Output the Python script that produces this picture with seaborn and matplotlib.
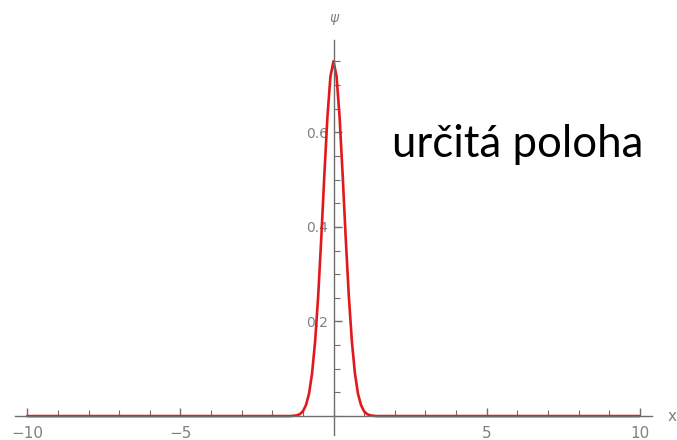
import matplotlib
matplotlib.use("Agg")
import matplotlib.pyplot as plt
import seaborn as sns
from matplotlib.ticker import MultipleLocator, FixedLocator

# values
x_vals = [-10.0, -1.4, -1.2, -1.1, -1.0, -0.9, -0.8, -0.7, -0.6, -0.5, -0.4, -0.3, -0.2, -0.1,
          0.0, 0.1, 0.2, 0.3, 0.4, 0.5, 0.6, 0.7, 0.8, 0.9, 1.0, 1.1, 1.2, 1.4, 10.0]
psi_vals = [0.0, 0.0, 0.0015, 0.004, 0.010, 0.023, 0.047, 0.090, 0.158, 0.254, 0.375, 0.508, 0.631, 0.718,
            0.75, 0.718, 0.631, 0.508, 0.375, 0.254, 0.158, 0.090, 0.047, 0.023, 0.010, 0.004, 0.0015, 0.0, 0.0]

x_ticks = [-10, -5, 5, 10]
x_tick_labels = ["\u221210", "\u22125", "5", "10"]
y_ticks = [0.2, 0.4, 0.6]
y_tick_labels = ["0.2", "0.4", "0.6"]

sns.set_style("white")
plt.rcParams['font.family'] = ['DejaVu Sans']

axis_grey = "#6e6e6e"
label_grey = "#808080"

fig = plt.figure(figsize=(6.77, 4.40), dpi=100)
ax = fig.add_axes([15 / 677, 5 / 440, 637 / 677, 395 / 440])

sns.lineplot(x=x_vals, y=psi_vals, ax=ax, color="#e2191c", linewidth=1.9, sort=False)

ax.set_xlim(-10.4, 10.4)
ax.set_ylim(-0.04, 0.795)

for side in ['top', 'right']:
    ax.spines[side].set_visible(False)
ax.spines['left'].set_position(('data', 0))
ax.spines['bottom'].set_position(('data', 0))
for side in ['left', 'bottom']:
    ax.spines[side].set_color(axis_grey)
    ax.spines[side].set_linewidth(1.0)

ax.xaxis.set_major_locator(FixedLocator(x_ticks))
ax.set_xticklabels(x_tick_labels)
ax.xaxis.set_minor_locator(MultipleLocator(1))
ax.yaxis.set_major_locator(FixedLocator(y_ticks))
ax.set_yticklabels(y_tick_labels)
ax.yaxis.set_minor_locator(MultipleLocator(0.05))

# seaborn's white style switches the ticks off, turn them back on
ax.tick_params(which='both', bottom=True, left=True, top=False, right=False)
ax.tick_params(axis='x', which='major', direction='in', length=6, width=1, color=axis_grey,
               labelsize=11, labelcolor=label_grey, pad=7)
ax.tick_params(axis='x', which='minor', direction='in', length=4, width=0.8, color=axis_grey)
ax.tick_params(axis='y', which='major', direction='in', length=6, width=1, color=axis_grey,
               labelsize=10, labelcolor=label_grey, pad=4)
ax.tick_params(axis='y', which='minor', direction='in', length=4, width=0.8, color=axis_grey)

ax.text(11.05, 0.0, "x", color=label_grey, fontsize=11, ha='center', va='center', clip_on=False)
ax.text(0.0, 0.842, "\u03c8", color=label_grey, fontsize=10, ha='center', va='center', clip_on=False,
        style='italic')

fig.text(392 / 677, 1 - 157 / 440, "ur\u010dit\u00e1 poloha", fontsize=31.5, color="black",
         family=['Lato', 'DejaVu Sans'], ha='left', va='baseline')

fig.savefig("out.png", dpi=100)
